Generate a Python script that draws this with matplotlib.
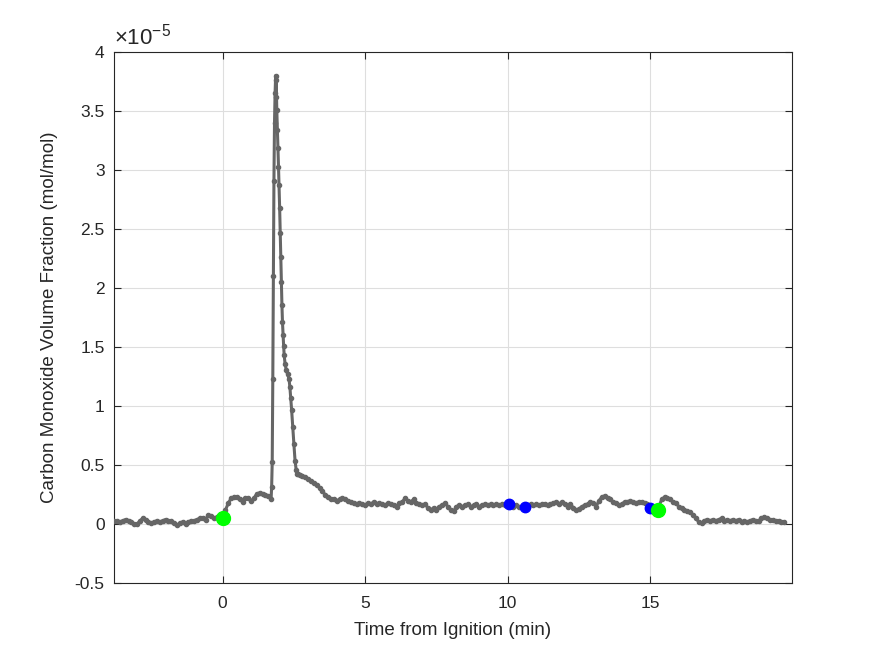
import numpy as np
import matplotlib
matplotlib.use("Agg")
import matplotlib.pyplot as plt

# Fraccion de CO (en unidades de 1e-5 mol/mol) vs tiempo desde la ignicion (min)

# tramo antes del pico, cada 0.1 min desde -3.8 hasta 1.7
co_pre = [0.03, 0.03, 0.02, 0.03, 0.04, 0.03, 0.02, 0.00, 0.00, 0.03,
          0.05, 0.04, 0.02, 0.01, 0.02, 0.03, 0.02, 0.03, 0.04, 0.03,
          0.03, 0.01, -0.01, 0.01, 0.02, 0.00, 0.02, 0.03, 0.03, 0.04,
          0.05, 0.05, 0.04, 0.08, 0.07, 0.05, 0.06, 0.04, 0.05, 0.12,
          0.18, 0.22, 0.23, 0.23, 0.21, 0.19, 0.22, 0.22, 0.20, 0.22,
          0.26, 0.265, 0.26, 0.25, 0.24, 0.21]
t_pre = np.linspace(-3.8, 1.7, len(co_pre))

# pico
t_pico = [1.72, 1.74, 1.76, 1.78, 1.80, 1.82, 1.84, 1.86, 1.87, 1.88,
          1.90, 1.92, 1.94, 1.96, 1.98, 2.00, 2.02, 2.04, 2.06, 2.08,
          2.10, 2.12, 2.14, 2.16, 2.19, 2.23, 2.28, 2.33, 2.36, 2.39,
          2.42, 2.46, 2.50, 2.54, 2.58, 2.62, 2.66]
co_pico = [0.32, 0.53, 1.23, 2.10, 2.91, 3.40, 3.65, 3.80, 3.62, 3.76,
           3.51, 3.34, 3.19, 3.03, 2.87, 2.68, 2.47, 2.26, 2.05, 1.86,
           1.71, 1.60, 1.51, 1.43, 1.36, 1.31, 1.27, 1.23, 1.16, 1.07,
           0.97, 0.82, 0.68, 0.54, 0.46, 0.43, 0.425]

# tramo despues del pico, cada 0.1 min desde 2.7 hasta 19.7
co_post = [0.42, 0.41, 0.40,
           0.38, 0.37, 0.35, 0.33, 0.31, 0.28, 0.25, 0.23, 0.21, 0.21,
           0.20, 0.21, 0.22, 0.21, 0.20, 0.19, 0.18, 0.17, 0.18, 0.17,
           0.16, 0.18, 0.17, 0.19, 0.17, 0.18, 0.17, 0.16, 0.18, 0.17,
           0.16, 0.15, 0.18, 0.19, 0.22, 0.20, 0.19, 0.21, 0.18, 0.17,
           0.16, 0.17, 0.14, 0.12, 0.14, 0.12, 0.15, 0.16, 0.18, 0.15,
           0.12, 0.11, 0.15, 0.16, 0.15, 0.16, 0.17, 0.15, 0.16, 0.17,
           0.15, 0.16, 0.17, 0.16, 0.17, 0.16, 0.17, 0.16, 0.17, 0.16,
           0.17, 0.16, 0.15, 0.16, 0.15, 0.15, 0.15, 0.16, 0.17, 0.16,
           0.17, 0.16, 0.17, 0.17, 0.16, 0.17, 0.18, 0.19, 0.17, 0.19,
           0.17, 0.15, 0.17, 0.14, 0.12, 0.13, 0.15, 0.16, 0.17, 0.19,
           0.18, 0.15, 0.20, 0.23, 0.24, 0.22, 0.21, 0.19, 0.18, 0.16,
           0.17, 0.19, 0.19, 0.20, 0.19, 0.18, 0.19, 0.19, 0.18, 0.17,
           0.14, 0.13, 0.13, 0.15, 0.21, 0.23, 0.22, 0.21, 0.19, 0.18,
           0.15, 0.14, 0.12, 0.11, 0.10, 0.08, 0.05, 0.02, 0.01, 0.03,
           0.04, 0.03, 0.04, 0.03, 0.04, 0.05, 0.03, 0.04, 0.03, 0.04,
           0.03, 0.04, 0.02, 0.03, 0.02, 0.03, 0.04, 0.03, 0.03, 0.05,
           0.06, 0.05, 0.04, 0.04, 0.03, 0.03, 0.02, 0.02]
t_post = np.linspace(2.7, 19.7, len(co_post))

# eventos marcados
t_verde = [0.0, 15.28]
co_verde = [0.05, 0.125]
t_azul = [10.05, 10.6, 15.0]
co_azul = [0.17, 0.147, 0.14]

t = np.concatenate([t_pre, t_pico, t_post])
co = np.concatenate([co_pre, co_pico, co_post])

plt.rcParams['font.family'] = ['Liberation Sans', 'DejaVu Sans']
plt.rcParams['mathtext.fontset'] = 'custom'
plt.rcParams['mathtext.rm'] = 'Liberation Sans'
plt.rcParams['mathtext.it'] = 'Liberation Sans'

color_ejes = '#262626'

fig = plt.figure(figsize=(8.75, 6.56), dpi=100)
ax = fig.add_axes([0.1306, 0.1108, 0.7742, 0.8099])

ax.plot(t, co, '-', color='#666666', lw=2.2, marker='.', markersize=6, zorder=3)
ax.plot(t_azul, co_azul, 'o', color='#0000ff', markersize=7.5, zorder=4, linestyle='none')
ax.plot(t_verde, co_verde, 'o', color='#00ff00', markersize=10, zorder=5, linestyle='none')

ax.set_xlim(-3.8, 19.96)
ax.set_ylim(-0.5, 4)
ax.set_xticks([0, 5, 10, 15])
ax.set_yticks(np.arange(-0.5, 4.01, 0.5))
ax.set_yticklabels(['-0.5', '0', '0.5', '1', '1.5', '2', '2.5', '3', '3.5', '4'])

ax.grid(True, color='#dedede', lw=0.8)
ax.set_axisbelow(True)
ax.tick_params(direction='in', top=True, right=True, length=5, width=0.8,
               colors=color_ejes, labelsize=12.5)
ax.tick_params(axis='x', pad=9)
ax.tick_params(axis='y', pad=7)
for s in ax.spines.values():
    s.set_color(color_ejes)
    s.set_linewidth(0.8)

ax.set_xlabel('Time from Ignition (min)', fontsize=13.5, color=color_ejes, labelpad=8)
ax.set_ylabel('Carbon Monoxide Volume Fraction (mol/mol)', fontsize=13.5,
              color=color_ejes, labelpad=12)
ax.text(0.0, 1.004, r'$\times10^{-5}$', transform=ax.transAxes, ha='left', va='bottom',
        fontsize=16, color=color_ejes)

fig.savefig('out.png', dpi=100)
